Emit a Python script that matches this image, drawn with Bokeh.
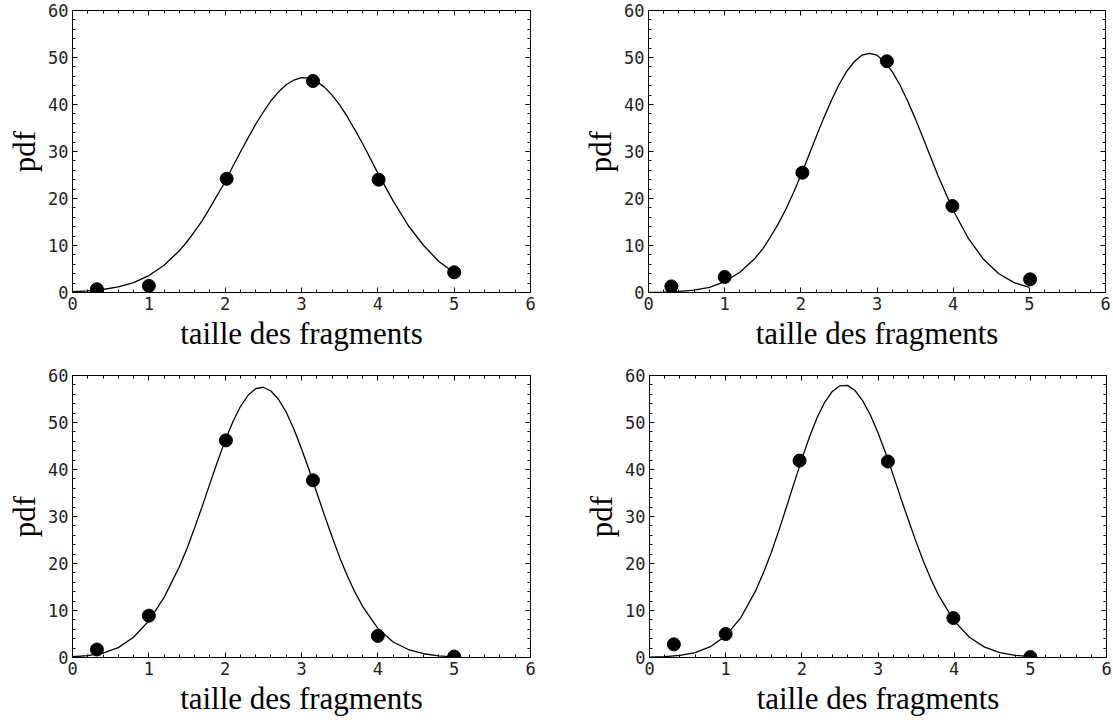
from bokeh.plotting import figure
from bokeh.layouts import column, row
from bokeh.models import Range1d, LinearAxis, SingleIntervalTicker
from bokeh.embed import file_html
from bokeh.resources import INLINE

# ---- data ----
x_label = "taille des fragments"
y_label = "pdf"

curve_x = [0.0, 0.2, 0.4, 0.6, 0.8, 1.0, 1.2, 1.4,
           1.5, 1.6, 1.7, 1.8, 1.9, 2.0, 2.1, 2.2, 2.3, 2.4, 2.5, 2.6, 2.7, 2.8,
           2.9, 3.0, 3.1, 3.2, 3.3, 3.4, 3.5, 3.6, 3.7, 3.8,
           4.0, 4.2, 4.4, 4.6, 4.8, 5.0]

curve_a = [0.16, 0.33, 0.64, 1.2, 2.1, 3.6, 5.8, 8.9,
           10.8, 13.0, 15.3, 18.0, 20.8, 23.6, 26.8, 29.9, 32.9, 35.8, 38.4, 40.8, 42.7, 44.2,
           45.2, 45.7, 45.6, 44.9, 43.7, 42.0, 39.9, 37.4, 34.6, 31.7,
           25.4, 19.5, 14.2, 10.0, 6.6, 4.2]
curve_b = [0.03, 0.08, 0.22, 0.5, 1.1, 2.3, 4.3, 7.3,
           9.3, 11.8, 14.5, 17.6, 21.1, 24.9, 29.0, 33.1, 37.1, 40.8, 44.2, 47.0, 49.1, 50.5,
           50.9, 50.5, 49.1, 47.0, 44.2, 40.8, 37.1, 33.1, 29.0, 24.9,
           17.5, 11.5, 7.0, 4.0, 2.1, 1.1]
curve_c = [0.16, 0.41, 0.95, 2.1, 4.3, 7.8, 12.8, 19.3,
           23.2, 27.6, 32.2, 37.0, 41.7, 46.2, 50.1, 53.4, 55.8, 57.2, 57.5, 56.7, 54.9, 52.2,
           48.6, 44.4, 39.9, 35.1, 30.3, 25.7, 21.3, 17.4, 13.9, 10.9,
           6.2, 3.3, 1.7, 0.8, 0.34, 0.14]
curve_d = [0.06, 0.17, 0.45, 1.06, 2.3, 4.6, 8.5, 14.4,
           18.2, 22.4, 27.1, 32.1, 37.2, 42.2, 46.9, 51.0, 54.3, 56.6, 57.8, 57.9, 56.8, 54.6,
           51.6, 47.8, 43.5, 38.8, 33.9, 29.2, 24.6, 20.3, 16.5, 13.1,
           7.8, 4.3, 2.2, 1.06, 0.47, 0.19]

pts_x_a = [0.32, 1.0, 2.02, 3.15, 4.01, 5.0]
pts_y_a = [0.7, 1.4, 24.2, 45.0, 24.0, 4.3]
pts_x_b = [0.3, 1.0, 2.02, 3.13, 3.99, 5.01]
pts_y_b = [1.3, 3.3, 25.5, 49.2, 18.4, 2.8]
pts_x_c = [0.32, 1.0, 2.01, 3.15, 4.0, 5.0]
pts_y_c = [1.7, 8.9, 46.2, 37.7, 4.6, 0.2]
pts_x_d = [0.32, 1.0, 1.97, 3.13, 3.99, 5.0]
pts_y_d = [2.8, 5.0, 41.9, 41.7, 8.4, 0.1]

TICK_FONT = "DejaVu Sans Mono"
LABEL_FONT = "Liberation Serif"


def style_axis(ax, show_labels):
    ax.axis_line_color = "black"
    ax.axis_line_width = 1
    ax.major_tick_in = 5
    ax.major_tick_out = 0
    ax.minor_tick_in = 3
    ax.minor_tick_out = 0
    ax.major_tick_line_color = "black"
    ax.minor_tick_line_color = "black"
    if show_labels:
        ax.major_label_text_font = TICK_FONT
        ax.major_label_text_font_size = "17px"
        ax.major_label_text_color = "#222222"
        ax.major_label_standoff = 4
        ax.axis_label_text_font = LABEL_FONT
        ax.axis_label_text_font_size = "31px"
        ax.axis_label_text_font_style = "normal"
        ax.axis_label_text_color = "black"
        ax.axis_label_standoff = 3
    else:
        ax.major_label_text_font_size = "1px"
        ax.major_label_text_color = None
        ax.major_label_standoff = 0
        ax.axis_label = None


def make(cx, cy, px, py, width, height, bl, br, bt, bb):
    p = figure(width=width, height=height, output_backend="svg",
               toolbar_location=None, x_range=Range1d(0, 6), y_range=Range1d(0, 60),
               min_border_left=bl, min_border_right=br,
               min_border_top=bt, min_border_bottom=bb)
    p.xgrid.visible = False
    p.ygrid.visible = False
    p.outline_line_color = "black"
    p.outline_line_width = 1
    p.background_fill_color = "white"
    p.border_fill_color = "white"

    p.xaxis.ticker = SingleIntervalTicker(interval=1, num_minor_ticks=5)
    p.yaxis.ticker = SingleIntervalTicker(interval=10, num_minor_ticks=5)
    p.xaxis.axis_label = x_label
    p.yaxis.axis_label = y_label
    for ax in p.xaxis:
        style_axis(ax, True)
    for ax in p.yaxis:
        style_axis(ax, True)

    top = LinearAxis(ticker=SingleIntervalTicker(interval=1, num_minor_ticks=5))
    right = LinearAxis(ticker=SingleIntervalTicker(interval=10, num_minor_ticks=5))
    style_axis(top, False)
    style_axis(right, False)
    p.add_layout(top, "above")
    p.add_layout(right, "right")

    p.line(cx, cy, line_color="black", line_width=1.3)
    p.scatter(px, py, size=13, fill_color="black", line_color="black")
    return p


p1 = make(curve_x, curve_a, pts_x_a, pts_y_a, 560, 358, 72, 30, 10, 66)
p2 = make(curve_x, curve_b, pts_x_b, pts_y_b, 553, 358, 88, 8, 10, 66)
p3 = make(curve_x, curve_c, pts_x_c, pts_y_c, 560, 364, 72, 30, 17, 65)
p4 = make(curve_x, curve_d, pts_x_d, pts_y_d, 553, 364, 89, 7, 17, 65)

layout = column(row(p1, p2), row(p3, p4))

open("out.html", "w").write(file_html(layout, INLINE))
